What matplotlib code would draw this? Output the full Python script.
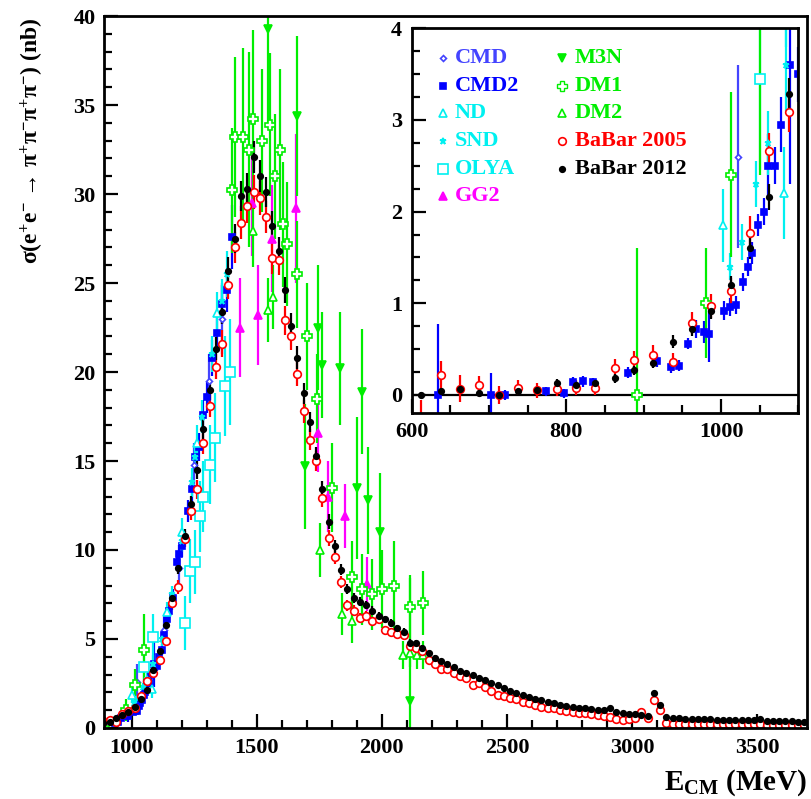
import numpy as np
import matplotlib
matplotlib.use('Agg')
import matplotlib.pyplot as plt

plt.rcParams['font.family'] = ['Liberation Serif', 'DejaVu Serif']
plt.rcParams['font.weight'] = 'bold'
plt.rcParams['mathtext.fontset'] = 'custom'
plt.rcParams['mathtext.rm'] = 'Liberation Serif:bold'
plt.rcParams['mathtext.it'] = 'Liberation Serif:bold'
plt.rcParams['mathtext.bf'] = 'Liberation Serif:bold'

# ---------------- data (E in MeV, sigma in nb) ----------------
# BaBar 2012 and BaBar 2005: 25 MeV bins
bab_E = np.arange(612.5, 3700.0, 25.0)

bab12_s = [0.00, 0.04, 0.07, 0.02, 0.00, 0.04, 0.05, 0.13, 0.11, 0.13,
           0.18, 0.27, 0.35, 0.58, 0.72, 0.92, 1.20, 1.60, 2.16, 3.28,
           4.3, 5.8, 7.3, 9.0, 10.8, 12.6, 14.5, 16.8, 19.0, 21.3,
           23.4, 25.7, 27.5, 29.9, 30.3, 32.1, 31.0, 30.1, 28.2, 26.8,
           24.6, 22.6, 20.8, 18.8, 17.2, 15.3, 13.4, 11.6, 10.2, 8.9,
           7.8, 7.3, 7.1, 6.9, 6.6, 6.3, 6.1, 5.9, 5.6, 5.4,
           4.8, 4.75, 4.5, 4.2, 3.95, 3.75, 3.6, 3.4, 3.2, 3.1,
           2.95, 2.8, 2.7, 2.55, 2.4, 2.25, 2.1, 1.95, 1.85, 1.75,
           1.65, 1.55, 1.45, 1.4, 1.3, 1.25, 1.2, 1.15, 1.1, 1.05,
           1.0, 1.0, 1.1, 0.9, 0.85, 0.8, 0.8, 0.75, 0.7, 1.95,
           1.3, 0.6, 0.55, 0.55, 0.5, 0.5, 0.5, 0.48, 0.48, 0.45,
           0.45, 0.45, 0.44, 0.43, 0.42, 0.42, 0.5, 0.4, 0.4, 0.38,
           0.38, 0.37, 0.36, 0.35]
bab12_e = [0.03, 0.03, 0.04, 0.03, 0.03, 0.03, 0.03, 0.04, 0.04, 0.04,
           0.05, 0.05, 0.06, 0.07, 0.08, 0.09, 0.10, 0.12, 0.14, 0.18,
           0.2, 0.25, 0.3, 0.35, 0.4, 0.45, 0.5, 0.55, 0.6, 0.65,
           0.7, 0.75, 0.8, 0.85, 0.9, 0.9, 0.9, 0.85, 0.85, 0.8,
           0.75, 0.7, 0.65, 0.6, 0.55, 0.5, 0.45, 0.4, 0.35, 0.3,
           0.28, 0.26, 0.25, 0.24, 0.23, 0.22, 0.21, 0.2, 0.2, 0.19,
           0.18, 0.17, 0.16, 0.15, 0.15, 0.14, 0.13, 0.13, 0.12, 0.12,
           0.11, 0.11, 0.1, 0.1, 0.1, 0.09, 0.09, 0.09, 0.08, 0.08,
           0.08, 0.08, 0.07, 0.07, 0.07, 0.07, 0.06, 0.06, 0.06, 0.06,
           0.06, 0.06, 0.06, 0.05, 0.05, 0.05, 0.05, 0.05, 0.05, 0.12,
           0.09, 0.05, 0.04, 0.04, 0.04, 0.04, 0.04, 0.04, 0.04, 0.04,
           0.04, 0.04, 0.04, 0.04, 0.04, 0.04, 0.05, 0.04, 0.04, 0.04,
           0.04, 0.04, 0.04, 0.04]

bab05_s = [-0.25, 0.22, 0.07, 0.11, 0.00, 0.08, 0.05, 0.07, 0.08, 0.08,
           0.29, 0.38, 0.44, 0.36, 0.78, 0.97, 1.13, 1.77, 2.66, 3.09,
           3.8, 4.9, 7.0, 7.9, 10.6, 12.2, 13.4, 16.0, 18.1, 20.3,
           21.6, 24.9, 27.0, 28.4, 29.3, 30.1, 29.8, 28.7, 26.4, 26.3,
           22.9, 22.0, 19.9, 17.8, 16.2, 15.0, 12.9, 10.7, 9.6, 8.2,
           6.9, 6.6, 6.2, 6.3, 6.0, 6.1, 5.5, 5.4, 5.3, 5.2,
           4.6, 4.5, 4.3, 3.8, 3.6, 3.3, 3.3, 3.1, 2.9, 2.8,
           2.4, 2.5, 2.3, 2.1, 1.85, 1.8, 1.7, 1.6, 1.45, 1.4,
           1.3, 1.2, 1.15, 1.1, 1.0, 0.95, 0.9, 0.85, 0.84, 0.8,
           0.75, 0.7, 0.6, 0.5, 0.45, 0.5, 0.55, 0.9, 0.55, 1.57,
           1.0, 0.28, 0.25, 0.25, 0.24, 0.24, 0.23, 0.23, 0.22, 0.22,
           0.22, 0.21, 0.21, 0.2, 0.2, 0.2, 0.2, 0.19, 0.19, 0.19,
           0.18, 0.18, 0.18, 0.17]
bab05_e = [0.2, 0.15, 0.15, 0.1, 0.1, 0.08, 0.08, 0.08, 0.08, 0.08,
           0.1, 0.1, 0.1, 0.1, 0.12, 0.13, 0.15, 0.18, 0.2, 0.22,
           0.25, 0.3, 0.35, 0.4, 0.45, 0.5, 0.55, 0.6, 0.65, 0.7,
           0.75, 0.8, 0.85, 0.9, 0.95, 0.95, 0.95, 0.9, 0.9, 0.85,
           0.8, 0.75, 0.7, 0.65, 0.6, 0.55, 0.5, 0.45, 0.4, 0.35,
           0.3, 0.3, 0.28, 0.28, 0.26, 0.26, 0.24, 0.24, 0.22, 0.22,
           0.2, 0.2, 0.18, 0.18, 0.16, 0.16, 0.15, 0.15, 0.14, 0.14,
           0.13, 0.13, 0.12, 0.12, 0.11, 0.11, 0.1, 0.1, 0.1, 0.1,
           0.09, 0.09, 0.09, 0.08, 0.08, 0.08, 0.08, 0.07, 0.07, 0.07,
           0.07, 0.07, 0.07, 0.07, 0.07, 0.07, 0.07, 0.08, 0.07, 0.15,
           0.1, 0.06, 0.06, 0.06, 0.06, 0.06, 0.06, 0.06, 0.06, 0.06,
           0.06, 0.06, 0.06, 0.06, 0.06, 0.06, 0.06, 0.06, 0.06, 0.06,
           0.06, 0.06, 0.06, 0.06]

cmd2_E = [634, 703, 720, 773, 797, 808, 822, 834, 880, 917, 935, 945, 957,
          967, 978, 985, 1004, 1012, 1020, 1028, 1035, 1040, 1048, 1055,
          1061, 1070, 1078, 1089, 1100, 1110, 1120, 1130, 1140, 1150, 1165,
          1180, 1190, 1200, 1225, 1240, 1255, 1270, 1285, 1300, 1320, 1340,
          1360, 1380, 1400]
cmd2_s = [0.0, 0.0, 0.0, 0.04, 0.02, 0.14, 0.15, 0.14, 0.24, 0.37, 0.30, 0.32,
          0.56, 0.72, 0.69, 0.66, 0.92, 0.96, 0.98, 1.23, 1.40, 1.55, 1.85,
          2.0, 2.5, 2.5, 2.95, 3.6, 3.5, 4.0, 4.4, 5.2, 6.1, 6.6, 7.3,
          9.3, 9.8, 10.2, 12.2, 13.4, 15.2, 15.8, 17.6, 18.6, 20.8, 22.2,
          23.8, 24.6, 27.6]
cmd2_e = [0.77, 0.24, 0.05, 0.05, 0.05, 0.06, 0.06, 0.05, 0.06, 0.06, 0.06,
          0.06, 0.06, 0.10, 0.12, 0.30, 0.10, 0.10, 0.10, 0.10, 0.10, 0.12,
          0.12, 0.15, 0.35, 0.20, 0.30, 1.30, 0.3, 0.3, 0.3, 0.4, 0.4, 0.4,
          0.5, 0.5, 0.5, 0.6, 0.6, 0.7, 0.7, 0.8, 0.8, 0.9, 1.0, 1.0, 1.1,
          1.2, 1.8]

cmd_E = [1022, 1130, 1190, 1250, 1310, 1360]
cmd_s = [2.6, 5.5, 9.0, 14.8, 19.5, 23.0]
cmd_e = [1.0, 0.8, 1.0, 1.2, 1.5, 2.0]

nd_E = [1003, 1081, 1140, 1200, 1260, 1340]
nd_s = [1.85, 2.2, 6.5, 11.0, 16.0, 23.3]
nd_e = [0.4, 0.5, 0.6, 0.8, 1.0, 1.2]

snd_E = [1011, 1027, 1045, 1061, 1084, 1120, 1160, 1200, 1240, 1252, 1280,
         1320, 1360, 1380]
snd_s = [1.4, 1.67, 2.3, 2.75, 3.6, 5.0, 7.5, 10.5, 13.8, 15.2, 17.5,
         21.0, 24.0, 25.5]
snd_e = [0.15, 0.2, 0.25, 0.35, 0.5, 0.4, 0.5, 0.6, 0.8, 0.8, 0.9,
         1.0, 1.2, 1.3]

olya_E = [1050, 1084, 1212, 1232, 1252, 1272, 1284, 1312, 1332, 1372, 1392]
olya_s = [3.45, 5.1, 5.9, 8.8, 9.3, 11.9, 13.0, 14.8, 16.3, 19.2, 20.0]
olya_e = [1.0, 1.3, 1.5, 1.8, 1.8, 2.0, 2.0, 2.2, 2.5, 2.8, 3.0]

gg2_E = [1432, 1480, 1504, 1560, 1656, 1744, 1784, 1852, 1940]
gg2_s = [22.5, 29.5, 23.2, 27.5, 29.2, 16.6, 13.0, 11.9, 8.1]
gg2_e = [2.8, 3.0, 2.8, 3.0, 4.2, 2.2, 2.0, 1.8, 1.5]

m3n_E = [1545, 1660, 1692, 1744, 1760, 1832, 1900, 1920, 1944, 1992, 2112]
m3n_s = [39.3, 34.4, 14.7, 22.5, 20.4, 20.2, 13.5, 18.9, 12.8, 11.0, 1.5]
m3n_e = [5.5, 4.5, 3.5, 3.5, 3.0, 3.2, 4.0, 3.5, 3.0, 3.3, 6.9]

dm1_E = [891, 980, 1013, 1050, 1400, 1412, 1444, 1468, 1484, 1520,
         1552, 1572, 1592, 1604, 1620, 1660, 1700, 1740, 1800, 1880, 1920,
         1960, 2000, 2050, 2112, 2164]
dm1_s = [0.0, 1.0, 2.4, 4.4, 30.2, 33.2, 33.2, 32.5, 34.2, 33.0,
         33.9, 31.0, 32.5, 28.3, 27.2, 25.5, 22.0, 18.5, 13.5, 8.5, 7.8,
         7.5, 7.8, 8.0, 6.8, 7.0]
dm1_e = [1.6, 0.6, 0.9, 2.0, 3.5, 4.5, 5.0, 5.5, 5.0, 4.0,
         4.0, 3.5, 4.5, 3.5, 3.5, 3.0, 3.0, 2.5, 2.5, 2.0, 2.0,
         2.0, 2.2, 2.5, 1.8, 1.8]

dm2_E = [1484, 1544, 1564, 1752, 1840, 1880, 2084, 2112, 2140, 2164]
dm2_s = [27.9, 23.5, 24.2, 10.0, 6.4, 6.0, 4.1, 4.2, 4.1, 4.1]
dm2_e = [2.0, 1.8, 1.8, 1.5, 1.2, 1.2, 0.8, 0.8, 0.8, 0.8]

BLUE = '#0000ff'
CMDBLUE = '#4444ff'
CYAN = '#00f0f0'
MAGENTA = '#ff00ff'
GREEN = '#00ee00'
RED = '#ff0000'
BLACK = '#000000'

# name, E, sigma, err, color, marker, size, filled
sets = [
    ('CMD',        cmd_E,  cmd_s,   cmd_e,   CMDBLUE, 'D', 3.0, False),
    ('CMD2',       cmd2_E, cmd2_s,  cmd2_e,  BLUE,    's', 5.0, True),
    ('ND',         nd_E,   nd_s,    nd_e,    CYAN,    '^', 5.5, False),
    ('SND',        snd_E,  snd_s,   snd_e,   CYAN,    '*', 5.0, True),
    ('OLYA',       olya_E, olya_s,  olya_e,  CYAN,    's', 7.0, False),
    ('GG2',        gg2_E,  gg2_s,   gg2_e,   MAGENTA, '^', 5.5, True),
    ('M3N',        m3n_E,  m3n_s,   m3n_e,   GREEN,   'v', 5.5, True),
    ('DM1',        dm1_E,  dm1_s,   dm1_e,   GREEN,   'P', 7.0, False),
    ('DM2',        dm2_E,  dm2_s,   dm2_e,   GREEN,   '^', 5.5, False),
    ('BaBar 2005', bab_E,  bab05_s, bab05_e, RED,     'o', 5.5, False),
    ('BaBar 2012', bab_E,  bab12_s, bab12_e, BLACK,   'o', 4.0, True),
]


def draw_sets(ax):
    for name, E, s, e, col, mk, ms, filled in sets:
        ax.errorbar(E, s, yerr=e, fmt=mk, color=col, ms=ms,
                    mfc=col if filled else 'white', mec=col, mew=1.2,
                    elinewidth=1.6, capsize=0)


def root_style(ax, xmaj, xmin, ymaj, ymin):
    ax.xaxis.set_major_locator(plt.MultipleLocator(xmaj))
    ax.xaxis.set_minor_locator(plt.MultipleLocator(xmin))
    ax.yaxis.set_major_locator(plt.MultipleLocator(ymaj))
    ax.yaxis.set_minor_locator(plt.MultipleLocator(ymin))
    ax.tick_params(which='both', direction='in', top=False, right=False,
                   width=1.6, labelsize=16)
    ax.tick_params(which='major', length=10)
    ax.tick_params(which='minor', length=6)
    for sp in ax.spines.values():
        sp.set_linewidth(2.0)


fig = plt.figure(figsize=(8.11, 7.99), dpi=100)

# main plot
ax = fig.add_axes([0.1282, 0.0889, 0.8672, 0.891])
draw_sets(ax)
ax.set_xlim(890, 3700)
ax.set_ylim(0, 40)
root_style(ax, 500, 100, 5, 1)
ax.tick_params(axis='x', pad=7)
ax.tick_params(axis='y', pad=6)

fig.text(0.040, 0.978,
         'σ(e$^{+}$e$^{-}$ → π$^{+}$π$^{-}$π$^{+}$π$^{-}$) (nb)',
         rotation=90, ha='center', va='top', fontsize=17, fontweight='bold')
fig.text(0.995, 0.012, r'E$_{\mathrm{CM}}$ (MeV)', ha='right',
         va='baseline', fontsize=21, fontweight='bold')

# inset: low-energy region
ax_in = fig.add_axes([0.5077, 0.4827, 0.4767, 0.4819])
ax_in.set_facecolor('white')
ax_in.axhline(0, color='k', lw=1.6, zorder=1)
draw_sets(ax_in)
ax_in.set_xlim(600, 1100)
ax_in.set_ylim(-0.2, 4)
root_style(ax_in, 200, 50, 1, 0.25)
ax_in.tick_params(axis='x', pad=6)
ax_in.tick_params(axis='y', pad=7)

# legend, two columns drawn inside the inset
for i, (name, E, s, e, col, mk, ms, filled) in enumerate(sets):
    col_i, row_i = divmod(i, 6)
    xm = 0.08 + 0.309 * col_i
    ym = 0.923 - 0.0719 * row_i
    ax_in.plot([xm], [ym], marker=mk, ms=ms, color=col,
               mfc=col if filled else 'white', mec=col,
               mew=1.0 if mk == 'P' else 1.2,
               transform=ax_in.transAxes, clip_on=False)
    ax_in.text(xm + 0.032, ym, name, color=col, fontsize=16,
               fontweight='bold', ha='left', va='center',
               transform=ax_in.transAxes)

fig.savefig('out.png', dpi=100)
